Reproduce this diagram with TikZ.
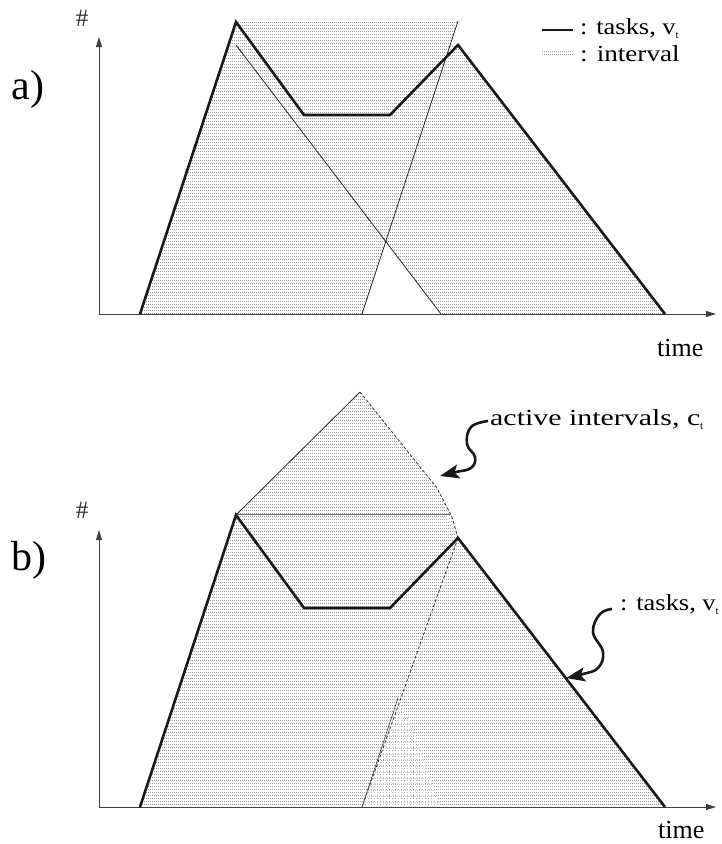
\documentclass[tikz,border=0pt]{standalone}
\usepackage{fontspec}
\usepackage{graphicx}
\setmainfont{Liberation Serif}
\usetikzlibrary{arrows.meta}
\begin{document}
\begin{tikzpicture}[x=1pt,y=-1pt,
  task/.style={line width=2.6pt, line join=miter, black!90},
  thinln/.style={line width=0.8pt, black!85},
  axis/.style={line width=0.9pt, black!75, -{Triangle[length=10pt,width=6pt]}},
  hatch/.style={line width=0.9pt, gray!75, dash pattern=on 1pt off 1pt},
  vhatch/.style={line width=0.8pt, gray!60, dash pattern=on 1pt off 2pt},
  lbl/.style={inner sep=0pt, anchor=base west, font=\fontsize{23}{26}\selectfont},
  big/.style={inner sep=0pt, font=\fontsize{42}{46}\selectfont},
  hash/.style={inner sep=0pt, font=\fontsize{25}{28}\selectfont, black!80},
  timelbl/.style={inner sep=0pt, anchor=base west, font=\fontsize{26}{30}\selectfont},
  squig/.style={line width=2.6pt, black!90, -{Stealth[length=19pt,width=14pt,inset=4pt]}},
]
\useasboundingbox (0,0) rectangle (722,844);
\newcommand{\subt}{\raisebox{-0.18em}{\fontsize{11}{11}\selectfont t}}

% ================= panel a =================
% interval 1
\begin{scope}
\clip (140,314) -- (236,22) -- (458,22) -- (362,314) -- cycle;
\foreach \y in {22,25,...,314} \draw[hatch] (130,\y) -- (470,\y);
\end{scope}
% interval 2
\begin{scope}
\clip (236,45) -- (458,45) -- (665,314) -- (441,314) -- cycle;
\foreach \y in {46.5,49.5,...,314} \draw[hatch] (230,\y) -- (670,\y);
\end{scope}

\coordinate (aO) at (99,314);
\coordinate (aY) at (99,37);
\coordinate (aX) at (716,314);
\draw[axis] (aO) -- (aY);
\draw[axis] (aO) -- (aX);

\coordinate (i1a) at (236,45); \coordinate (i1b) at (441,314);
\coordinate (i2a) at (362,314); \coordinate (i2b) at (458,21);
\draw[thinln] (i1a) -- (i1b);
\draw[thinln] (i2a) -- (i2b);

\coordinate (a1) at (140,314); \coordinate (a2) at (236,22);
\coordinate (a3) at (304,115); \coordinate (a4) at (390,115);
\coordinate (a5) at (458,45);  \coordinate (a6) at (665,314);
\draw[task] (a1) -- (a2) -- (a3) -- (a4) -- (a5) -- (a6);

\node[hash] (hashA) at (82,18) {\#};
\node[big] (labA) at (28,89.5) {a)};
\node[timelbl] (timeA) at (657,356) {time};

% legend
\coordinate (lg1) at (542,30); \coordinate (lg2) at (573,30);
\draw[line width=2.6pt, black!90] (lg1) -- (lg2);
\coordinate (lh1) at (542,51); \coordinate (lh2) at (573,51);
\coordinate (lh3) at (542,54); \coordinate (lh4) at (573,54);
\draw[hatch] (lh1) -- (lh2);
\draw[hatch] (lh3) -- (lh4);
\node[lbl] (legT) at (580,34) {\scalebox{1.15}[1]{: tasks, v}\subt};
\node[lbl] (legI) at (580,61) {\scalebox{1.18}[1]{: interval}};

% ================= panel b =================
\begin{scope}
\clip (140,807) -- (236,515) -- (360,392) -- (437,488) -- (452,517) -- (458,538) -- (665,807) -- cycle;
\foreach \y in {393,396,...,807} \draw[hatch] (130,\y) -- (670,\y);
\end{scope}
\fill[white] (362.5,807) -- (398,699) -- (412,727) -- (440,807) -- cycle;
\begin{scope}
\clip (362,807) -- (398,698) -- (412,727) -- (440,807) -- cycle;
\foreach \x in {362,365,...,442} \draw[vhatch] (\x,690) -- (\x,807);
\foreach \y in {700,706,...,807} \draw[hatch, gray!50] (355,\y) -- (445,\y);
\end{scope}
\fill[white] (451,515) -- (445,515) -- (456,533) -- (458,537) -- (453,517) -- cycle;
\begin{scope}
\clip (451,514) -- (445,514) -- (456,532) -- (458,538) -- (453,517) -- cycle;
\foreach \x in {444,446.5,...,460} \draw[vhatch] (\x,512) -- (\x,540);
\end{scope}

\coordinate (bO) at (99,807);
\coordinate (bY) at (99,530);
\coordinate (bX) at (716,807);
\draw[axis] (bO) -- (bY);
\draw[axis] (bO) -- (bX);

\coordinate (c1) at (236,515); \coordinate (c2) at (360,392);
\coordinate (c3) at (437,488); \coordinate (c4) at (452,517);
\coordinate (c5) at (458,538); \coordinate (c6) at (362,807);
\coordinate (h1) at (236,514); \coordinate (h2) at (451,514);
\draw[thinln] (c1) -- (c2);
\draw[line width=0.8pt, black!80, densely dashed] (c2) -- (c3) -- (c4) -- (c5);
\draw[line width=0.9pt, black!55] (h1) -- (h2);
\draw[line width=0.8pt, black!80, densely dashed] (c5) -- (c6);
\coordinate (tv) at (398,698);
\draw[line width=0.7pt, black!70] (c6) -- (tv);

\coordinate (b1) at (140,807); \coordinate (b2) at (236,515);
\coordinate (b3) at (304,608); \coordinate (b4) at (390,608);
\coordinate (b5) at (458,538);  \coordinate (b6) at (665,807);
\draw[task] (b1) -- (b2) -- (b3) -- (b4) -- (b5) -- (b6);

\node[hash] (hashB) at (82,510) {\#};
\node[big] (labB) at (29,560) {b)};
\node[timelbl] (timeB) at (658,838) {time};

\node[lbl] (actL) at (490,425) {\scalebox{1.3}[1]{active intervals, c}\subt};
\node[lbl] (tskL) at (620,610) {\scalebox{1.15}[1]{: tasks, v}\subt};

\draw[squig] plot[smooth, tension=0.7] coordinates {(488,421) (471,427) (467,444) (475,457) (471,468) (456,472) (440,476)};
\draw[squig] plot[smooth, tension=0.7] coordinates {(612,609) (600,614) (593,632) (603,652) (598,668) (583,674) (566,678)};
\end{tikzpicture}
\end{document}
